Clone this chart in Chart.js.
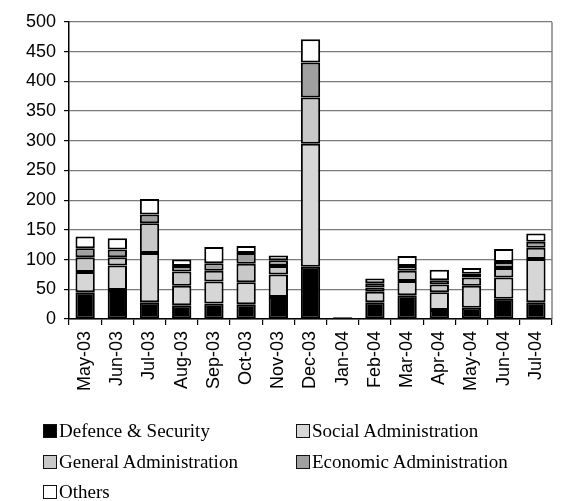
<!DOCTYPE html>
<html>
<head>
<meta charset="utf-8">
<script src="https://cdn.jsdelivr.net/npm/chart.js@4.4.0/dist/chart.umd.min.js"></script>
<style>
  html, body { margin: 0; padding: 0; background: #fff; }
  #wrap { position: relative; width: 568px; height: 501px; }
  #legend { position: absolute; left: 43px; top: 420px; width: 520px;
    font-family: "Liberation Serif", "Times New Roman", serif; font-size: 19px; color: #000; }
  .item { position: absolute; display: flex; align-items: center; white-space: nowrap; }
  .box { width: 12px; height: 12px; border: 1.5px solid #111; margin-right: 2px; }
</style>
</head>
<body>
<div id="wrap">
  <canvas id="chart" width="568" height="501"></canvas>
  <div id="legend"></div>
</div>
<script>
// months on the x axis
const months = ["May-03", "Jun-03", "Jul-03", "Aug-03", "Sep-03", "Oct-03", "Nov-03", "Dec-03",
  "Jan-04", "Feb-04", "Mar-04", "Apr-04", "May-04", "Jun-04", "Jul-04"];

// series values (stacked, bottom to top)
const defence  = [45, 49, 28, 23, 26, 25, 37, 88, 3, 28, 40, 15, 19, 34, 28];
const social   = [34, 41, 83, 33, 37, 37, 38, 207, 0, 18, 24, 30, 37, 36, 73];
const general  = [25, 14, 50, 24, 18, 31, 14, 78, 0, 7, 17, 13, 14, 16, 19];
const economic = [15, 13, 15, 9, 13, 18, 10, 59, 0, 7, 8, 7, 6, 10, 10];
const others   = [20, 19, 26, 11, 27, 12, 8, 39, 0, 8, 17, 18, 10, 22, 14];

const seriesNames = ["Defence & Security", "Social Administration", "General Administration",
  "Economic Administration", "Others"];
const seriesColors = ["#000000", "#d6d6d6", "#c8c8c8", "#a0a0a0", "#ffffff"];
const seriesData = [defence, social, general, economic, others];

const datasets = seriesData.map((d, i) => ({
  label: seriesNames[i],
  data: d,
  backgroundColor: seriesColors[i],
  borderColor: "#000",
  borderWidth: 2,
  borderSkipped: false,
  barPercentage: 0.6,
  categoryPercentage: 1
}));

// right-hand frame line of the plot area
const frameLine = {
  id: "frameLine",
  afterDraw(chart) {
    const { ctx, chartArea } = chart;
    ctx.save();
    ctx.strokeStyle = "#808080";
    ctx.lineWidth = 1.5;
    ctx.beginPath();
    ctx.moveTo(chartArea.right, chartArea.top);
    ctx.lineTo(chartArea.right, chartArea.bottom);
    ctx.stroke();
    ctx.restore();
  }
};

const tickFont = { family: "'Liberation Sans', Arial, sans-serif", size: 18 };

new Chart(document.getElementById("chart"), {
  type: "bar",
  data: { labels: months, datasets: datasets },
  plugins: [frameLine],
  options: {
    responsive: false,
    animation: false,
    layout: { padding: { left: 18, right: 16, top: 22, bottom: 104 } },
    plugins: { legend: { display: false }, tooltip: { enabled: false } },
    scales: {
      x: {
        stacked: true,
        grid: { display: true, drawOnChartArea: false, offset: true, tickLength: 6, color: "#000", lineWidth: 1.2 },
        border: { color: "#000", width: 1.5 },
        ticks: { color: "#000", font: tickFont, maxRotation: 90, minRotation: 90, padding: 6 }
      },
      y: {
        stacked: true,
        min: 0,
        max: 500,
        ticks: { stepSize: 50, color: "#000", font: tickFont, padding: 8 },
        grid: { color: "#7a7a7a", lineWidth: 1.2, tickLength: 5, tickColor: "#000" },
        border: { color: "#000", width: 1.5 }
      }
    }
  }
});

// legend in two columns
const legend = document.getElementById("legend");
const legendPos = [[0, 0], [253, 0], [0, 31], [253, 31], [0, 61]];
seriesNames.forEach((name, i) => {
  const item = document.createElement("div");
  item.className = "item";
  item.style.left = legendPos[i][0] + "px";
  item.style.top = legendPos[i][1] + "px";
  const box = document.createElement("span");
  box.className = "box";
  box.style.background = seriesColors[i];
  item.appendChild(box);
  item.appendChild(document.createTextNode(name));
  legend.appendChild(item);
});
</script>
</body>
</html>
